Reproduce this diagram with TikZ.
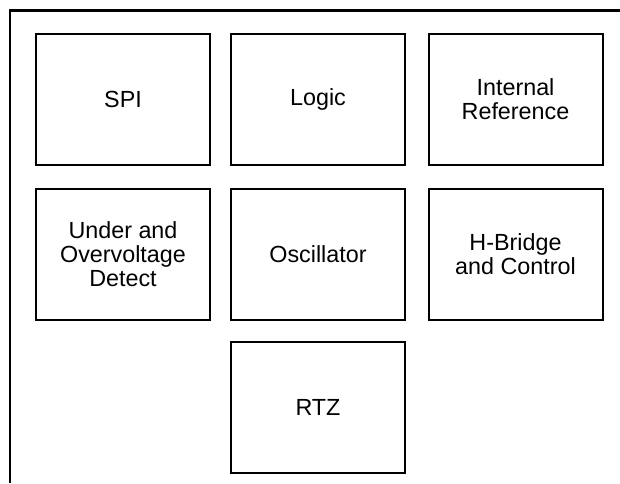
\documentclass[tikz,border=0pt]{standalone}
\usepackage{fontspec}
\setmainfont{Liberation Sans}

\begin{document}
\begin{tikzpicture}[x=0.75pt,y=0.75pt,yscale=-1,xscale=1,
  blk/.style={draw, line width=1.5pt, minimum width=130.5pt, minimum height=98.25pt, align=center, inner sep=0pt, font=\fontsize{17.5}{18.2}\selectfont},
  frame/.style={line width=1.8pt}]
\useasboundingbox (0,0) rectangle (620,483);

%Outer frame (open to the right and bottom)
\draw [frame] (9.7,483) -- (9.7,10.5) -- (620,10.5) ;

% Blocks, first row
\node [blk] (spi) at (123,99.5) {SPI};
\node [blk] (logic) at (318,99.5) {Logic};
\node [blk] (iref) at (515.5,99.5) {Internal\\Reference};
% Blocks, second row
\node [blk] (uvov) at (123,254) {Under and\\Overvoltage\\Detect};
\node [blk] (osc) at (318,254) {Oscillator};
\node [blk] (hbr) at (515.5,254) {H-Bridge\\and Control};
% Blocks, third row
\node [blk] (rtz) at (318,407) {RTZ};

\end{tikzpicture}
\end{document}
